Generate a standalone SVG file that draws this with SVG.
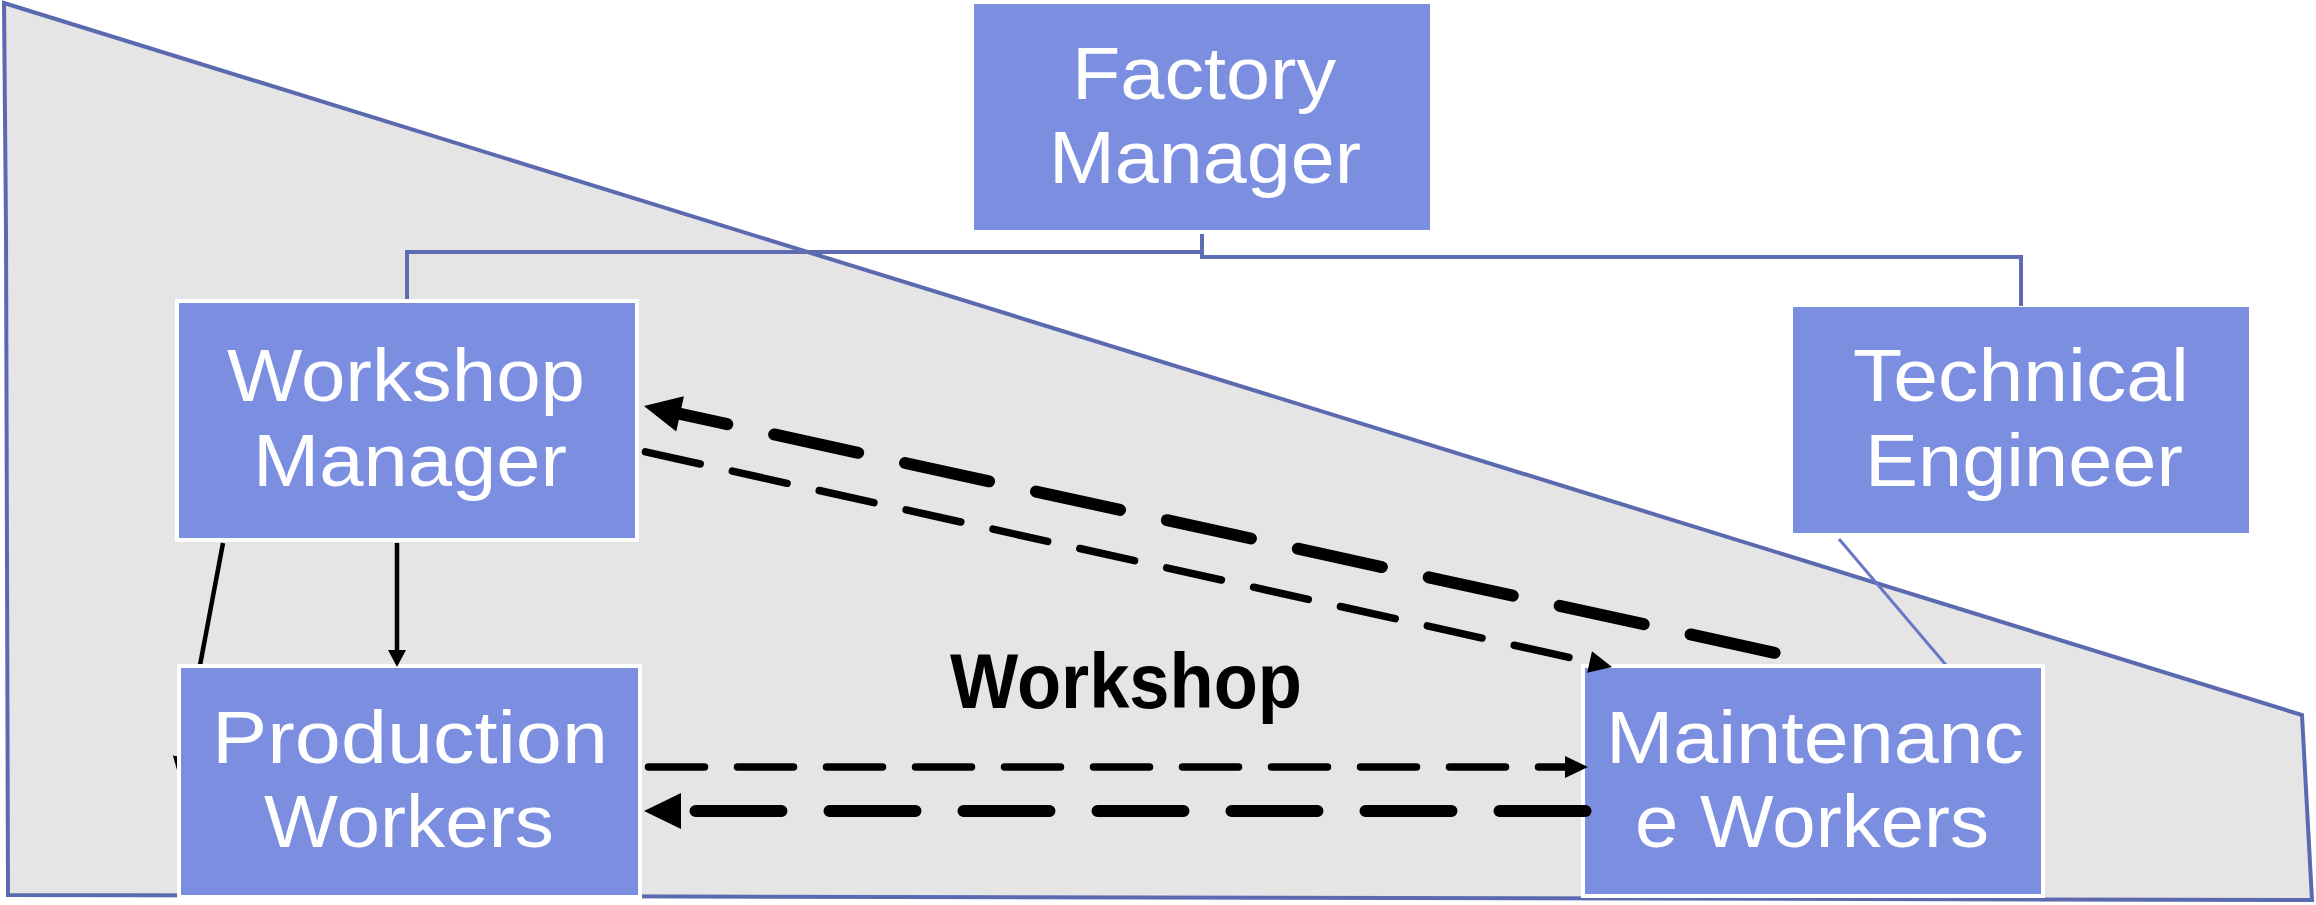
<svg xmlns="http://www.w3.org/2000/svg" width="2316" height="905" viewBox="0 0 2316 905">
  <style>
    .node rect { fill: #7B8EE0; }
    .node.framed rect { stroke: #FFFFFF; stroke-width: 4; }
    .node text { fill: #FFFFFF; font-family: "Liberation Sans", "Arial", sans-serif; font-size: 74px; text-anchor: middle; }
    .org { fill: none; stroke: #5E6DB2; stroke-width: 4; }
    .org-thin { fill: none; stroke: #6878C6; stroke-width: 3; }
    .solid { fill: none; stroke: #000000; stroke-width: 4.5; }
    .dash-thin { fill: none; stroke: #000000; stroke-width: 7.5; stroke-linecap: round; stroke-dasharray: 56 33; }
    .dash-thick { fill: none; stroke: #000000; stroke-width: 12; stroke-linecap: round; stroke-dasharray: 86 48; }
    .area-label { fill: #000000; font-family: "Liberation Sans", "Arial", sans-serif; font-weight: bold; font-size: 78px; text-anchor: middle; }
  </style>
  <defs>
    <marker id="head-solid" markerUnits="userSpaceOnUse" viewBox="0 0 20 20" markerWidth="20" markerHeight="20" refX="0" refY="10" orient="auto" overflow="visible">
      <path d="M0,0L20,10L0,20z" fill="#000000"/>
    </marker>
    <marker id="head-vert" markerUnits="userSpaceOnUse" viewBox="0 0 17 18" markerWidth="17" markerHeight="18" refX="0" refY="9" orient="auto" overflow="visible">
      <path d="M0,0L17,9L0,18z" fill="#000000"/>
    </marker>
    <marker id="head-thin" markerUnits="userSpaceOnUse" viewBox="0 0 23 22" markerWidth="23" markerHeight="22" refX="0" refY="11" orient="auto" overflow="visible">
      <path d="M0,0L23,11L0,22z" fill="#000000"/>
    </marker>
    <marker id="head-thick" markerUnits="userSpaceOnUse" viewBox="0 0 37 36" markerWidth="37" markerHeight="36" refX="0" refY="18" orient="auto" overflow="visible">
      <path d="M0,0L37,18L0,36z" fill="#000000"/>
    </marker>
    <!-- everything except the Production Workers box, so the slanted link passes behind it -->
    <clipPath id="behind-production">
      <path clip-rule="evenodd" d="M0,0H2316V905H0Z M177,664H642V899H177Z"/>
    </clipPath>
  </defs>

  <rect width="2316" height="905" fill="#FFFFFF"/>

  <!-- workshop area -->
  <g id="workshop-area">
    <polygon points="4,3 2302,715 2312,900 8,895 6,230" fill="#E5E5E5" stroke="#5B6AB0" stroke-width="4" stroke-linejoin="miter"/>
    <text class="area-label" x="1126" y="708" textLength="352" lengthAdjust="spacingAndGlyphs">Workshop</text>
  </g>

  <!-- hierarchy lines -->
  <g id="hierarchy">
    <polyline class="org" points="407,299 407,252 1202,252"/>
    <polyline class="org" points="1202,234 1202,257 2021,257 2021,306"/>
    <line class="org-thin" x1="1839" y1="539" x2="1946" y2="665"/>
  </g>

  <!-- nodes -->
  <g id="factory-manager" class="node">
    <rect x="974" y="4" width="456" height="226"/>
    <text><tspan x="1204" y="99" textLength="264" lengthAdjust="spacingAndGlyphs">Factory</tspan><tspan x="1205" y="183" textLength="312" lengthAdjust="spacingAndGlyphs">Manager</tspan></text>
  </g>
  <g id="technical-engineer" class="node">
    <rect x="1793" y="307" width="456" height="226"/>
    <text><tspan x="2021" y="401" textLength="336" lengthAdjust="spacingAndGlyphs">Technical</tspan><tspan x="2024" y="486" textLength="318" lengthAdjust="spacingAndGlyphs">Engineer</tspan></text>
  </g>
  <g id="workshop-manager" class="node framed">
    <rect x="177" y="301" width="460" height="239"/>
    <text><tspan x="406" y="401" textLength="358" lengthAdjust="spacingAndGlyphs">Workshop</tspan><tspan x="410" y="486" textLength="314" lengthAdjust="spacingAndGlyphs">Manager</tspan></text>
  </g>
  <g id="production-workers" class="node framed">
    <rect x="179" y="666" width="461" height="231"/>
    <text><tspan x="410" y="763" textLength="396" lengthAdjust="spacingAndGlyphs">Production</tspan><tspan x="409" y="847" textLength="290" lengthAdjust="spacingAndGlyphs">Workers</tspan></text>
  </g>
  <g id="maintenance-workers" class="node framed">
    <rect x="1583" y="666" width="460" height="230"/>
    <text><tspan x="1815" y="763" textLength="418" lengthAdjust="spacingAndGlyphs">Maintenanc</tspan><tspan x="1812" y="847" textLength="354" lengthAdjust="spacingAndGlyphs">e Workers</tspan></text>
  </g>

  <!-- connectors -->
  <g id="connectors">
    <path class="solid" d="M223,543L182.7,757.3" marker-end="url(#head-solid)" clip-path="url(#behind-production)"/>
    <path class="solid" d="M397,543L397,650" marker-end="url(#head-vert)"/>
    <path class="dash-thick" d="M1774.6,652.8L680.1,413.9" marker-end="url(#head-thick)"/>
    <path class="dash-thin" d="M645.5,451.8L1589.6,662" marker-end="url(#head-thin)"/>
    <path class="dash-thin" d="M648.5,767L1565,767" marker-end="url(#head-thin)"/>
    <path class="dash-thick" d="M1585.5,811L681,811" marker-end="url(#head-thick)"/>
  </g>
</svg>
